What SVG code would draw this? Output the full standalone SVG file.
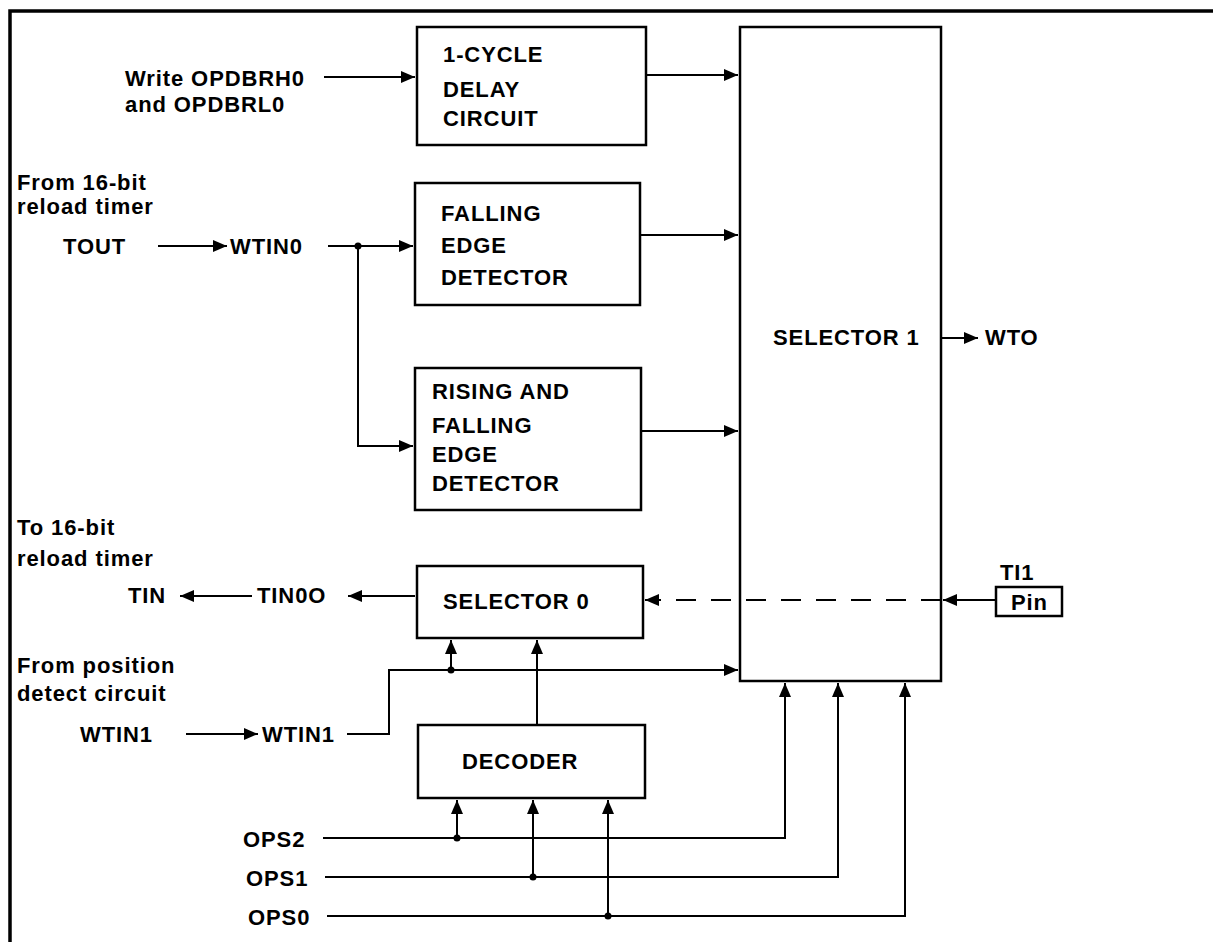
<svg xmlns="http://www.w3.org/2000/svg" width="1213" height="942" viewBox="0 0 1213 942">
<style>
text{font-family:"Liberation Sans",Arial,sans-serif;font-weight:bold;font-size:22px;letter-spacing:0.9px;fill:#000}
.box{fill:#fff;stroke:#000;stroke-width:2.5}
.ln{fill:none;stroke:#000;stroke-width:2}
.arr{marker-end:url(#ah)}
.dash{stroke-dasharray:20 15}
.dot{fill:#000}
</style>
<defs>
<marker id="ah" markerUnits="userSpaceOnUse" markerWidth="14" markerHeight="12" refX="14" refY="6" orient="auto">
<path d="M0,0 L14,6 L0,12 z" fill="#000"/>
</marker>
</defs>
<rect width="1213" height="942" fill="#fff"/>
<g id="frame"><path d="M10,942 V11 H1213" fill="none" stroke="#000" stroke-width="3.5"/></g>

<g id="delay"><rect class="box" x="417" y="27" width="229" height="118"/>
<text x="443" y="62">1-CYCLE</text><text x="443" y="97">DELAY</text><text x="443" y="126">CIRCUIT</text></g>
<g id="falling"><rect class="box" x="415" y="183" width="225" height="122"/>
<text x="441" y="221">FALLING</text><text x="441" y="253">EDGE</text><text x="441" y="285">DETECTOR</text></g>
<g id="rising"><rect class="box" x="415" y="368" width="226" height="142"/>
<text x="432" y="399">RISING AND</text><text x="432" y="433">FALLING</text><text x="432" y="462">EDGE</text><text x="432" y="491">DETECTOR</text></g>
<g id="selector0"><rect class="box" x="417" y="566" width="226" height="72"/>
<text x="443" y="609">SELECTOR 0</text></g>
<g id="decoder"><rect class="box" x="418" y="725" width="227" height="73"/>
<text x="462" y="769">DECODER</text></g>
<g id="selector1"><rect class="box" x="740" y="27" width="201" height="654"/>
<text x="773" y="345">SELECTOR 1</text></g>
<g id="pin"><rect class="box" x="996" y="587" width="66" height="29"/>
<text x="1011" y="610">Pin</text></g>

<g id="labels">
<text x="125" y="86">Write OPDBRH0</text>
<text x="125" y="112">and OPDBRL0</text>
<text x="17" y="190">From 16-bit</text>
<text x="17" y="214">reload timer</text>
<text x="63" y="254">TOUT</text>
<text x="230" y="254">WTIN0</text>
<text x="17" y="535">To 16-bit</text>
<text x="17" y="566">reload timer</text>
<text x="128" y="603">TIN</text>
<text x="257" y="603">TIN0O</text>
<text x="17" y="673">From position</text>
<text x="17" y="701">detect circuit</text>
<text x="80" y="742">WTIN1</text>
<text x="262" y="742">WTIN1</text>
<text x="243" y="847">OPS2</text>
<text x="246" y="886">OPS1</text>
<text x="248" y="925">OPS0</text>
<text x="985" y="345">WTO</text>
<text x="1000" y="580">TI1</text>
</g>

<g id="connectors">
<path class="ln arr" d="M324,77 H415"/>
<path class="ln arr" d="M646,75 H738"/>
<path class="ln arr" d="M158,246 H227"/>
<path class="ln arr" d="M328,246 H413"/>
<path class="ln arr" d="M358,246 V446 H413"/>
<circle class="dot" cx="358" cy="246" r="3.5"/>
<path class="ln arr" d="M640,235 H738"/>
<path class="ln arr" d="M641,431 H738"/>
<path class="ln arr" d="M941,338 H978"/>
<path class="ln arr" d="M252,596 H180"/>
<path class="ln arr" d="M415,596 H348"/>
<path class="ln arr dash" d="M941,600 H645"/>
<path class="ln arr" d="M996,600 H943"/>
<path class="ln arr" d="M186,734 H258"/>
<path class="ln arr" d="M347,734 H389 V670 H738"/>
<path class="ln arr" d="M451,670 V640"/>
<circle class="dot" cx="451" cy="670" r="3.5"/>
<path class="ln arr" d="M537,725 V640"/>
<path class="ln arr" d="M323,838 H785 V683"/>
<path class="ln arr" d="M457,838 V800"/>
<circle class="dot" cx="457" cy="838" r="3.5"/>
<path class="ln arr" d="M325,877 H838 V683"/>
<path class="ln arr" d="M533,877 V800"/>
<circle class="dot" cx="533" cy="877" r="3.5"/>
<path class="ln arr" d="M327,916 H905 V683"/>
<path class="ln arr" d="M608,916 V800"/>
<circle class="dot" cx="608" cy="916" r="3.5"/>
</g>
</svg>
